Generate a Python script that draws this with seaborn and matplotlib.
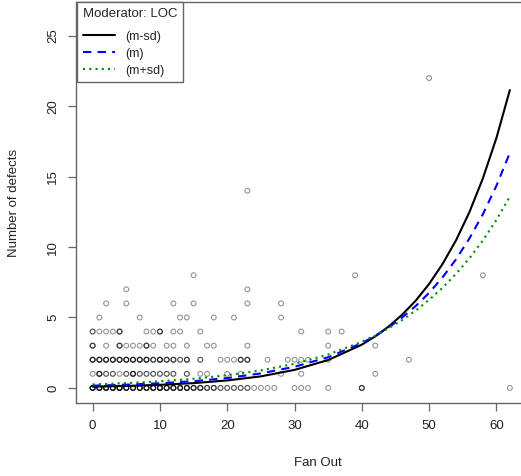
import numpy as np
import pandas as pd
import matplotlib
matplotlib.use("Agg")
import matplotlib.pyplot as plt
import seaborn as sns

# observed modules: (fan out, defects, how many overlap at that spot)
fan_out = [0, 1, 2, 3, 4, 5, 6, 7, 8, 9, 10, 11, 12, 13, 14, 15, 16, 17, 18, 19, 20,
           21, 22, 23, 24, 25, 26, 27, 30, 31, 32, 35, 40, 62,
           0, 1, 2, 3, 4, 5, 6, 7, 8, 9, 10, 11, 12, 14, 16, 17, 20, 22, 28, 31, 42,
           0, 1, 2, 3, 4, 5, 6, 7, 8, 9, 10, 11, 12, 13, 14, 16, 19, 20, 21, 22, 23,
           26, 29, 30, 31, 32, 35, 47,
           0, 2, 4, 5, 6, 7, 8, 9, 11, 12, 14, 17, 18, 23, 35, 42,
           0, 1, 2, 3, 4, 8, 9, 10, 12, 13, 16, 31, 35, 37,
           1, 7, 13, 14, 18, 21, 28,
           2, 5, 12, 15, 23, 28,
           5, 23,
           15, 39, 58,
           23, 50]
defects = [0] * 34 + [1] * 21 + [2] * 28 + [3] * 16 + [4] * 14 + [5] * 7 + [6] * 6 \
    + [7] * 2 + [8] * 3 + [14, 22]
overlap = [6, 6, 6, 6, 6, 5, 5, 5, 5, 5, 6, 5, 5, 5, 5, 4, 4, 3, 3, 2, 2,
           2, 2, 2, 1, 1, 1, 1, 1, 1, 1, 1, 3, 1,
           1, 4, 2, 2, 1, 2, 4, 2, 2, 2, 2, 2, 2, 2, 1, 1, 1, 1, 1, 1, 1,
           4, 4, 4, 4, 4, 4, 4, 4, 4, 3, 4, 3, 3, 2, 3, 2, 1, 1, 1, 3, 3,
           1, 1, 1, 1, 1, 1, 1,
           3, 1, 3, 1, 1, 1, 3, 1, 1, 1, 1, 1, 1, 1, 1, 1,
           2, 1, 1, 1, 3, 1, 1, 3, 1, 1, 1, 1, 1, 1,
           1, 1, 1, 1, 1, 1, 1,
           1, 1, 1, 1, 1, 1,
           1, 1,
           1, 1, 1,
           1, 1]

# predicted counts
curve_x = [0, 5, 10, 15, 20, 25, 30, 35, 40, 42, 44, 46, 48, 50, 52, 54, 56, 58, 60, 62]
low_sd = [0.09, 0.14, 0.22, 0.34, 0.53, 0.82, 1.28, 1.98, 3.07, 3.66, 4.36, 5.20,
          6.19, 7.38, 8.80, 10.48, 12.49, 14.89, 17.74, 21.15]
mean_loc = [0.16, 0.23, 0.33, 0.48, 0.70, 1.03, 1.50, 2.18, 3.18, 3.70, 4.30, 5.00,
            5.81, 6.75, 7.85, 9.13, 10.62, 12.34, 14.35, 16.69]
high_sd = [0.25, 0.34, 0.47, 0.65, 0.90, 1.24, 1.71, 2.37, 3.27, 3.72, 4.24, 4.82,
           5.49, 6.25, 7.11, 8.10, 9.21, 10.48, 11.93, 13.58]

pts = pd.DataFrame({"fan_out": np.repeat(fan_out, overlap),
                    "defects": np.repeat(defects, overlap)})
curves = pd.DataFrame({"x": curve_x, "low": low_sd, "mid": mean_loc, "high": high_sd})

sns.set_style("white")
plt.rcParams["font.family"] = ["Liberation Sans", "DejaVu Sans"]

fig = plt.figure(figsize=(5.21, 4.76), dpi=100)
ax = fig.add_axes([0.1459, 0.1534, 0.865, 0.8424])

sns.scatterplot(data=pts, x="fan_out", y="defects", ax=ax, marker="o",
                facecolor="none", edgecolor="black", alpha=0.42, s=12, linewidth=0.8)

sns.lineplot(data=curves, x="x", y="low", ax=ax, color="black", lw=1.5, label="(m-sd)")
sns.lineplot(data=curves, x="x", y="mid", ax=ax, color="#0000FF", lw=1.5,
             linestyle=(0, (4, 3)), label="(m)")
sns.lineplot(data=curves, x="x", y="high", ax=ax, color="#008B00", lw=1.5,
             linestyle=(0, (1, 2)), label="(m+sd)")

ax.set_xlim(-2.47, 64.5)
ax.set_ylim(-1.07, 27.4)
ax.set_xticks([0, 10, 20, 30, 40, 50, 60])
ax.set_yticks([0, 5, 10, 15, 20, 25])
for lab in ax.get_yticklabels():
    lab.set_rotation(90)
    lab.set_va("center")
ax.tick_params(axis="both", direction="out", length=6, width=0.9, color="#666666",
               labelsize=9.5, labelcolor="#222222", pad=6, left=True, bottom=True)
for sp in ax.spines.values():
    sp.set_color("#666666")
    sp.set_linewidth(1.0)

ax.set_xlabel("Fan Out", fontsize=9.5, color="#222222")
ax.set_ylabel("Number of defects", fontsize=9.5, color="#222222")
ax.xaxis.set_label_coords(0.537, -0.135)
ax.yaxis.set_label_coords(-0.125, 0.5)

leg = ax.legend(title="Moderator: LOC", loc="upper left", bbox_to_anchor=(0.002, 1.0),
                borderaxespad=0, fancybox=False, fontsize=9, title_fontsize=9.5,
                alignment="left", handlelength=2.6, handletextpad=0.8,
                labelspacing=0.4, borderpad=0.45)
leg._legend_box.sep = 8
leg.get_frame().set_edgecolor("#666666")
leg.get_frame().set_linewidth(1.0)
leg.get_frame().set_alpha(1)

fig.savefig("out.png", dpi=100)
